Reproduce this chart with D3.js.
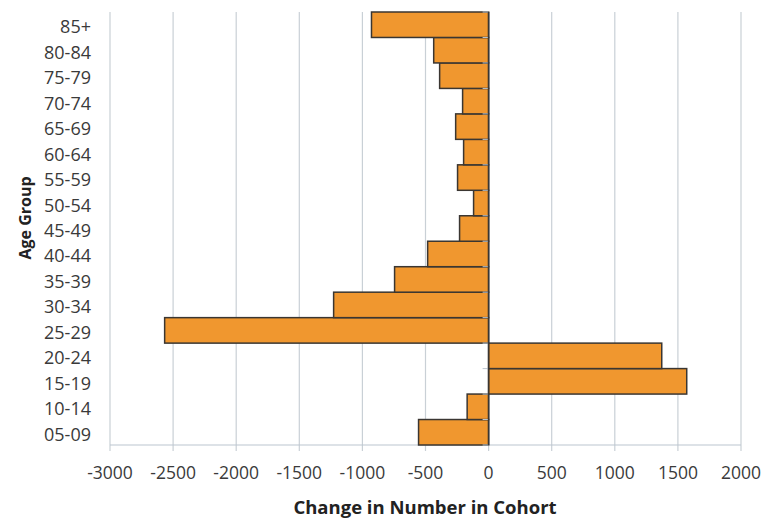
<!DOCTYPE html>
<html lang="en">
<head>
    <meta charset="UTF-8">
    <title>Change in Number in Cohort</title>
    <script src="https://d3js.org/d3.v7.min.js"></script>
    <style>
        body { margin: 0; background-color: white; }
        svg { display: block; font-family: 'Open Sans', sans-serif; }
    </style>
</head>
<body>
    <script>
        // age groups, bottom to top as drawn
        const ageGroups = ['05-09','10-14','15-19','20-24','25-29','30-34','35-39','40-44',
                           '45-49','50-54','55-59','60-64','65-69','70-74','75-79','80-84','85+'];
        const changes = [-555, -170, 1570, 1372, -2567, -1228, -745, -483,
                         -230, -119, -246, -198, -261, -206, -388, -435, -928];
        const xTicks = [-3000, -2500, -2000, -1500, -1000, -500, 0, 500, 1000, 1500, 2000];

        const w = 767;
        const h = 518;
        const plotLeft = 110, plotRight = 741, plotTop = 12, plotBottom = 445;

        const dataset = ageGroups.map((g, i) => ({ group: g, value: changes[i] }));

        const xScale = d3.scaleLinear()
            .domain([-3000, 2000])
            .range([plotLeft, plotRight]);

        const yScale = d3.scaleBand()
            .domain(ageGroups)
            .range([plotBottom, plotTop])
            .padding(0);

        const svg = d3.select('body')
            .append('svg')
            .attr('width', w)
            .attr('height', h);

        // vertical gridlines
        svg.append('g')
            .selectAll('line')
            .data(xTicks)
            .enter()
            .append('line')
            .attr('x1', d => xScale(d))
            .attr('x2', d => xScale(d))
            .attr('y1', plotTop)
            .attr('y2', plotBottom + 6)
            .style('stroke', '#c9d0d6')
            .style('stroke-width', 1.2);

        // bottom axis line
        svg.append('line')
            .attr('x1', plotLeft)
            .attr('x2', plotRight)
            .attr('y1', plotBottom)
            .attr('y2', plotBottom)
            .style('stroke', '#bcc6d0')
            .style('stroke-width', 1.2);

        // bars
        svg.append('g')
            .selectAll('rect')
            .data(dataset)
            .enter()
            .append('rect')
            .attr('x', d => xScale(Math.min(0, d.value)))
            .attr('y', d => yScale(d.group))
            .attr('width', d => Math.abs(xScale(d.value) - xScale(0)))
            .attr('height', yScale.bandwidth())
            .style('fill', '#f0972f')
            .style('stroke', '#3a3632')
            .style('stroke-width', 1.5);

        // category ticks on the zero line
        const bounds = ageGroups.map(g => yScale(g)).concat([plotBottom]);
        svg.append('g')
            .selectAll('line')
            .data(bounds)
            .enter()
            .append('line')
            .attr('x1', xScale(0) - 6)
            .attr('x2', xScale(0))
            .attr('y1', d => d)
            .attr('y2', d => d)
            .style('stroke', '#bcc6d0')
            .style('stroke-width', 1);

        // zero axis line
        svg.append('line')
            .attr('x1', xScale(0))
            .attr('x2', xScale(0))
            .attr('y1', plotTop)
            .attr('y2', plotBottom)
            .style('stroke', '#3a3632')
            .style('stroke-width', 1.5);

        // x tick labels
        svg.append('g')
            .selectAll('text')
            .data(xTicks)
            .enter()
            .append('text')
            .attr('x', d => xScale(d))
            .attr('y', 479)
            .attr('text-anchor', 'middle')
            .style('font-size', '17.5px')
            .style('fill', '#3a3a3a')
            .text(d => d);

        // y category labels (sit a touch below band centre, like the original)
        svg.append('g')
            .selectAll('text')
            .data(ageGroups)
            .enter()
            .append('text')
            .attr('x', 91)
            .attr('y', d => yScale(d) + yScale.bandwidth() / 2 + 2)
            .attr('dy', '0.36em')
            .attr('text-anchor', 'end')
            .style('font-size', '18px')
            .style('fill', '#3a3a3a')
            .text(d => d);

        // axis titles
        svg.append('text')
            .attr('x', 425)
            .attr('y', 514)
            .attr('text-anchor', 'middle')
            .style('font-size', '18.5px')
            .style('font-weight', 'bold')
            .style('fill', '#222')
            .text('Change in Number in Cohort');

        svg.append('text')
            .attr('transform', 'translate(31,218) rotate(-90)')
            .attr('text-anchor', 'middle')
            .style('font-size', '16px')
            .style('font-weight', 'bold')
            .style('fill', '#222')
            .text('Age Group');
    </script>
</body>
</html>
